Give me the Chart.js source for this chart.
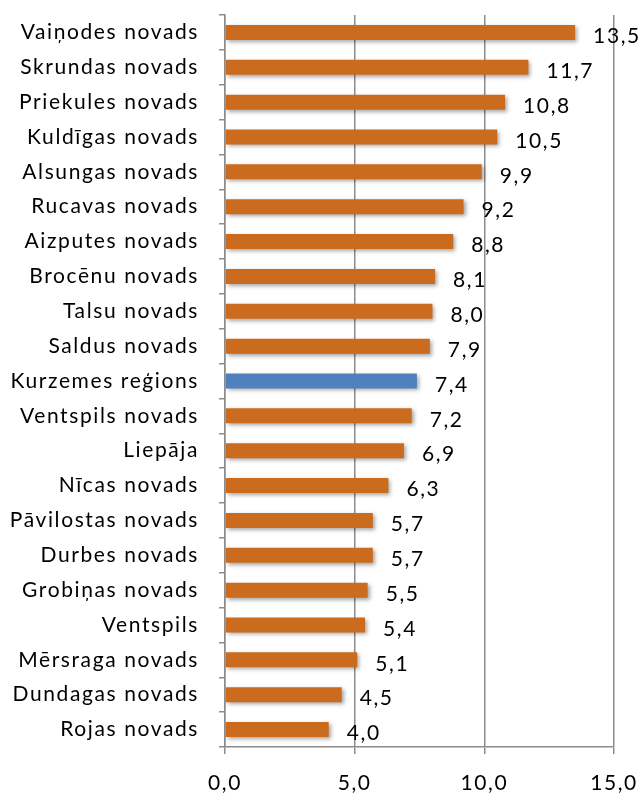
<!DOCTYPE html>
<html>
<head>
<meta charset="utf-8">
<script src="https://cdn.jsdelivr.net/npm/chart.js@4"></script>
<style>
  html, body { margin: 0; padding: 0; background: #fff; }
  #wrap { width: 644px; height: 798px; position: relative; }
</style>
</head>
<body>
<div id="wrap"><canvas id="chart"></canvas></div>
<script>
// dati
const regions = [
  'Vaiņodes novads', 'Skrundas novads', 'Priekules novads', 'Kuldīgas novads',
  'Alsungas novads', 'Rucavas novads', 'Aizputes novads', 'Brocēnu novads',
  'Talsu novads', 'Saldus novads', 'Kurzemes reģions', 'Ventspils novads',
  'Liepāja', 'Nīcas novads', 'Pāvilostas novads', 'Durbes novads',
  'Grobiņas novads', 'Ventspils', 'Mērsraga novads', 'Dundagas novads', 'Rojas novads'
];
const values = [13.5, 11.7, 10.8, 10.5, 9.9, 9.2, 8.8, 8.1, 8.0, 7.9, 7.4, 7.2, 6.9, 6.3, 5.7, 5.7, 5.5, 5.4, 5.1, 4.5, 4.0];
const xTicks = [0, 5, 10, 15];
const highlight = 'Kurzemes reģions';

const ORANGE = '#CB6B1E';
const BLUE = '#4F81BD';
const FONT = 'Lato, "Open Sans", sans-serif';
const SPACING = '1.6px';

const fmt = v => v.toFixed(1).replace('.', ',');

// burtu atstarpe visam tekstam
const spacingPlugin = {
  id: 'letterSpacing',
  beforeDraw(chart) { chart.ctx.letterSpacing = SPACING; }
};

// ēna stabiņiem
const shadowPlugin = {
  id: 'barShadow',
  beforeDatasetDraw(chart) {
    const ctx = chart.ctx;
    ctx.save();
    ctx.shadowColor = 'rgba(0,0,0,0.35)';
    ctx.shadowBlur = 4;
    ctx.shadowOffsetX = 2;
    ctx.shadowOffsetY = 2;
  },
  afterDatasetDraw(chart) {
    chart.ctx.restore();
  }
};

// vērtību etiķetes
const labelPlugin = {
  id: 'valueLabels',
  afterDatasetsDraw(chart) {
    const ctx = chart.ctx;
    const meta = chart.getDatasetMeta(0);
    ctx.save();
    ctx.letterSpacing = SPACING;
    ctx.font = '21px ' + FONT;
    ctx.fillStyle = '#000';
    ctx.textAlign = 'left';
    ctx.textBaseline = 'middle';
    meta.data.forEach((bar, i) => {
      ctx.fillText(fmt(values[i]), bar.x + 18, bar.y + 4);
    });
    ctx.restore();
  }
};

new Chart(document.getElementById('chart'), {
  type: 'bar',
  data: {
    labels: regions,
    datasets: [{
      data: values,
      backgroundColor: regions.map(r => r === highlight ? BLUE : ORANGE),
      barPercentage: 0.43,
      categoryPercentage: 1.0
    }]
  },
  options: {
    indexAxis: 'y',
    responsive: true,
    maintainAspectRatio: false,
    animation: false,
    layout: { padding: { top: 15, right: 30, bottom: 0, left: 0 } },
    plugins: {
      legend: { display: false },
      tooltip: { enabled: false }
    },
    scales: {
      x: {
        min: 0,
        max: 15,
        afterBuildTicks: axis => { axis.ticks = xTicks.map(v => ({ value: v })); },
        afterFit: axis => { axis.height = 51; axis.paddingLeft = 0; axis.paddingRight = 0; },
        grid: { color: '#8c8c8c', lineWidth: 1.5, tickLength: 7 },
        border: { color: '#8c8c8c', width: 1.5 },
        ticks: {
          color: '#000',
          padding: 17,
          maxRotation: 0,
          font: { family: FONT, size: 21 },
          callback: v => fmt(v)
        }
      },
      y: {
        afterFit: axis => { axis.width = 225; axis.paddingTop = 0; axis.paddingBottom = 0; },
        grid: { drawOnChartArea: false, color: '#8c8c8c', lineWidth: 1.5, tickLength: 6 },
        border: { color: '#8c8c8c', width: 1.5 },
        ticks: {
          color: '#000',
          padding: 20,
          autoSkip: false,
          font: { family: FONT, size: 21 }
        }
      }
    }
  },
  plugins: [spacingPlugin, shadowPlugin, labelPlugin]
});
</script>
</body>
</html>
